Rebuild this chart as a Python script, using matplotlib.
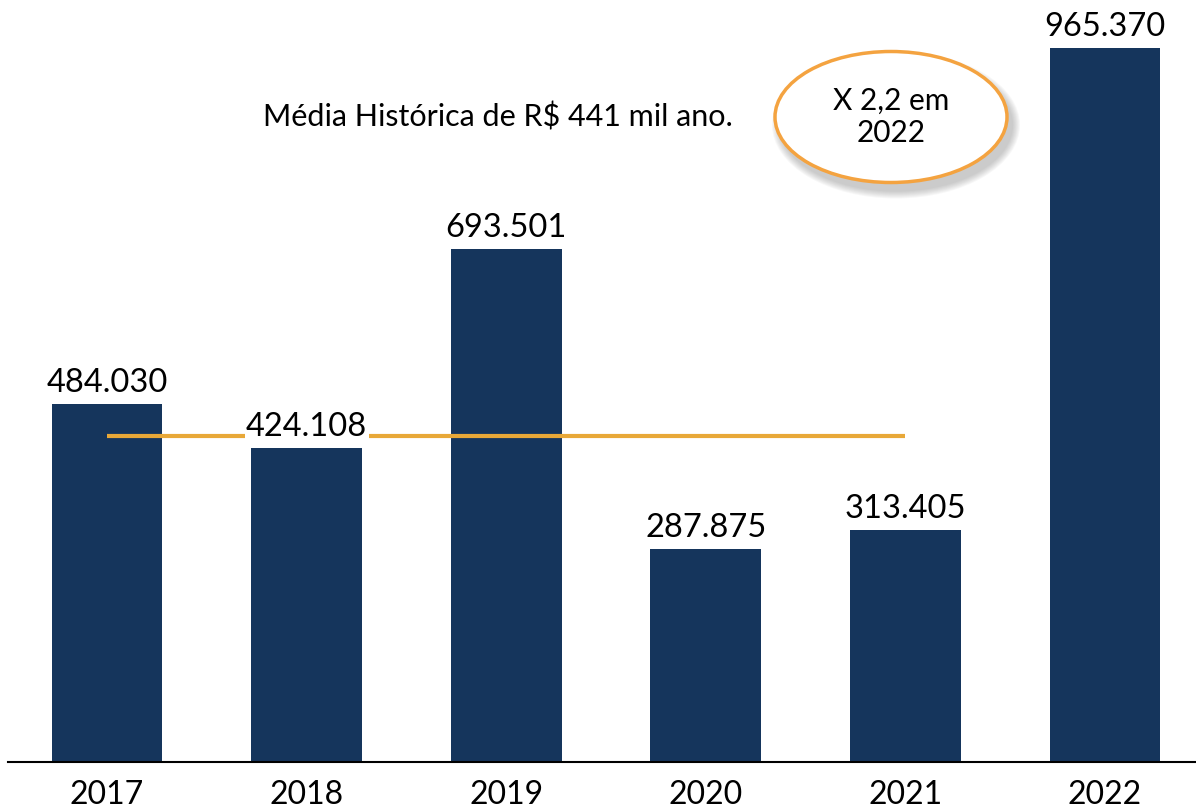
import matplotlib.pyplot as plt
from matplotlib.patches import Ellipse

plt.rcParams['font.family'] = ['Lato', 'DejaVu Sans']

anos = ['2017', '2018', '2019', '2020', '2021', '2022']
valores = [484030, 424108, 693501, 287875, 313405, 965370]
rotulos = ['484.030', '424.108', '693.501', '287.875', '313.405', '965.370']
media = 441000

W, H = 1196, 809
fig = plt.figure(figsize=(W / 100, H / 100), dpi=100)
ax = fig.add_axes([8 / W, 47 / H, 1 - 8 / W, 762 / H])

x = list(range(len(anos)))
ax.bar(x, valores, width=0.555, color='#15355c', zorder=2)
ax.hlines(media, 0, 4, color='#e8a838', lw=3, zorder=3)

for i, (v, r) in enumerate(zip(valores, rotulos)):
    bbox = dict(facecolor='white', edgecolor='none', pad=1) if i == 1 else None
    ax.text(i, v + 8000, r, ha='center', va='bottom', fontsize=23.5,
            color='black', bbox=bbox, zorder=4)

ax.set_xlim(-0.496, 5.456)
ax.set_ylim(0, 1030266)
ax.set_xticks(x)
ax.set_xticklabels(anos, fontsize=23)
ax.tick_params(axis='x', length=0, pad=13)
ax.set_yticks([])
for s in ['top', 'right', 'left']:
    ax.spines[s].set_visible(False)
ax.spines['bottom'].set_linewidth(1.5)

fig.text(263 / W, 1 - 117 / H, 'Média Histórica de R$ 441 mil ano.',
         fontsize=22, ha='left', va='center')

# balão com sombra
cx, cy, ew, eh = 891 / W, 1 - 117 / H, 232 / W, 131 / H
for k in range(8):
    fig.patches.append(Ellipse((cx + 5 / W, cy - 8 / H), ew + (8 - k) * 2 / W,
                               eh + (8 - k) * 2 / H, transform=fig.transFigure,
                               facecolor='#808080', edgecolor='none', alpha=0.06))
fig.patches.append(Ellipse((cx, cy), ew, eh, transform=fig.transFigure,
                           facecolor='white', edgecolor='#f4a340', lw=2.5))
fig.text(cx, cy, 'X 2,2 em\n2022', fontsize=21.5, ha='center', va='center',
         linespacing=1.15)

fig.savefig('out.png', dpi=100)
